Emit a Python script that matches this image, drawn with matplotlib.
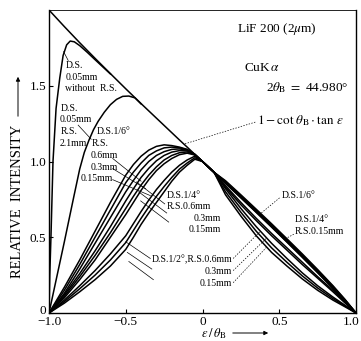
import matplotlib
matplotlib.use("Agg")
import matplotlib.pyplot as plt
from matplotlib.patches import FancyArrowPatch
from matplotlib.transforms import ScaledTranslation

plt.rcParams["font.family"] = ["Liberation Serif", "DejaVu Serif"]
plt.rcParams["mathtext.fontset"] = "stix"

# common abscissa (epsilon / theta_B) for the slit-profile curves
X_GRID = [-1.0, -0.9, -0.8, -0.7, -0.6, -0.5, -0.45, -0.4, -0.35, -0.3, -0.25,
          -0.2, -0.15, -0.1, -0.05, 0.0, 0.075, 0.15, 0.25, 0.35, 0.45, 0.55,
          0.65, 0.75, 0.85, 0.93, 1.0]

# 1 - cot(theta_B) * tan(eps), theta_B = 22.49 deg
LIMIT_Y = [2.0, 1.8905, 1.784, 1.681, 1.580, 1.480, 1.431, 1.382, 1.334, 1.286,
           1.238, 1.190, 1.142, 1.095, 1.047, 1.0, 0.929, 0.858, 0.762, 0.666,
           0.569, 0.470, 0.370, 0.268, 0.163, 0.077, 0.0]

DS6_RS06 = [0, 0.17, 0.35, 0.54, 0.73, 0.91, 0.98, 1.035, 1.075, 1.10, 1.11,
            1.105, 1.095, 1.08, 1.047, 1.0, 0.929, 0.873, 0.78, 0.685, 0.589,
            0.49, 0.39, 0.287, 0.18, 0.088, 0]
DS6_RS03 = [0, 0.15, 0.32, 0.50, 0.68, 0.86, 0.93, 0.99, 1.04, 1.07, 1.09,
            1.095, 1.09, 1.078, 1.047, 1.0, 0.929, 0.868, 0.774, 0.678, 0.582,
            0.483, 0.383, 0.28, 0.175, 0.085, 0]
DS6_RS015 = [0, 0.13, 0.29, 0.46, 0.63, 0.80, 0.875, 0.945, 1.0, 1.04, 1.065,
             1.08, 1.083, 1.075, 1.047, 1.0, 0.929, 0.863, 0.768, 0.672, 0.575,
             0.477, 0.377, 0.275, 0.17, 0.082, 0]
DS4_RS06 = [0, 0.12, 0.26, 0.41, 0.57, 0.74, 0.82, 0.895, 0.955, 1.005, 1.04,
            1.062, 1.072, 1.07, 1.045, 1.0, 0.929, 0.84, 0.73, 0.625, 0.525,
            0.43, 0.335, 0.24, 0.15, 0.07, 0]
DS4_RS03 = [0, 0.11, 0.24, 0.38, 0.53, 0.69, 0.77, 0.845, 0.91, 0.965, 1.01,
            1.04, 1.058, 1.063, 1.044, 1.0, 0.929, 0.83, 0.715, 0.61, 0.51,
            0.415, 0.32, 0.23, 0.14, 0.065, 0]
DS4_RS015 = [0, 0.10, 0.22, 0.35, 0.50, 0.65, 0.73, 0.81, 0.88, 0.94, 0.985,
             1.02, 1.045, 1.055, 1.043, 1.0, 0.929, 0.855, 0.76, 0.664, 0.567,
             0.468, 0.368, 0.266, 0.162, 0.076, 0]
DS2_RS06 = [0, 0.085, 0.18, 0.28, 0.39, 0.51, 0.59, 0.67, 0.745, 0.815, 0.875,
            0.93, 0.975, 1.01, 1.035, 1.0, 0.929, 0.82, 0.69, 0.57, 0.46,
            0.36, 0.265, 0.18, 0.105, 0.05, 0]
DS2_RS03 = [0, 0.075, 0.16, 0.25, 0.35, 0.465, 0.545, 0.625, 0.70, 0.77, 0.835,
            0.895, 0.95, 0.99, 1.025, 1.0, 0.929, 0.80, 0.665, 0.54, 0.43,
            0.335, 0.245, 0.165, 0.095, 0.045, 0]
DS2_RS015 = [0, 0.065, 0.14, 0.22, 0.31, 0.42, 0.50, 0.585, 0.66, 0.73, 0.80,
             0.87, 0.93, 0.975, 1.015, 1.0, 0.929, 0.78, 0.64, 0.51, 0.40,
             0.31, 0.225, 0.15, 0.085, 0.04, 0]

# narrow divergence slit curves (end where they join the limit curve)
DS005_NORS_X = [-1.0, -0.995, -0.987, -0.974, -0.954, -0.93, -0.908, -0.885,
                -0.862, -0.835, -0.80, -0.75, -0.70, -0.65, -0.60]
DS005_NORS_Y = [0, 0.25, 0.51, 1.0, 1.35, 1.55, 1.70, 1.77, 1.795, 1.79,
                1.765, 1.72, 1.672, 1.625, 1.578]
DS005_RS21_X = [-1.0, -0.9, -0.84, -0.8, -0.77, -0.74, -0.71, -0.68, -0.64,
                -0.6, -0.56, -0.52, -0.48, -0.44, -0.40]
DS005_RS21_Y = [0, 0.47, 0.76, 0.95, 1.06, 1.14, 1.21, 1.265, 1.325, 1.375,
                1.41, 1.43, 1.432, 1.42, 1.38]

X_TICKS = [-1.0, -0.5, 0.0, 0.5, 1.0]
X_TICK_LABELS = ["\u22121.0", "\u22120.5", "0", "0.5", "1.0"]
Y_TICKS = [0.0, 0.5, 1.0, 1.5]
Y_TICK_LABELS = ["0", "0.5", "1.0", "1.5"]


def shift(artist, fig, dx_px, dy_px):
    artist.set_transform(artist.get_transform() + ScaledTranslation(
        dx_px / fig.dpi, dy_px / fig.dpi, fig.dpi_scale_trans))


def main() -> None:
    fig = plt.figure(figsize=(3.61, 3.41), dpi=100)
    ax = fig.add_axes([49 / 361, 1 - 313 / 341, 307 / 361, 303 / 341])
    lw = 1.1

    ax.plot(X_GRID, LIMIT_Y, color="black", lw=lw)
    for ys in (DS6_RS06, DS6_RS03, DS6_RS015, DS4_RS06, DS4_RS03, DS4_RS015,
               DS2_RS06, DS2_RS03, DS2_RS015):
        ax.plot(X_GRID, ys, color="black", lw=lw)
    ax.plot(DS005_NORS_X, DS005_NORS_Y, color="black", lw=lw)
    ax.plot(DS005_RS21_X, DS005_RS21_Y, color="black", lw=lw)

    ax.set_xlim(-1.0, 1.0)
    ax.set_ylim(0.0, 2.0)
    ax.set_xticks(X_TICKS, X_TICK_LABELS)
    ax.set_yticks(Y_TICKS, Y_TICK_LABELS)
    ax.tick_params(direction="in", length=3, width=0.8, labelsize=9.5)
    ax.tick_params(axis="x", pad=2)
    ax.tick_params(axis="y", pad=2)
    # keep the corner labels apart and inside the canvas
    shift(ax.get_yticklabels()[0], fig, 0, 4)
    shift(ax.get_xticklabels()[-1], fig, -5, 0)
    for side in ax.spines:
        ax.spines[side].set_linewidth(1.0)
    ax.spines["top"].set_linewidth(0.6)

    big = 9.5
    small = 7
    ax.text(0.226, 1.873, "LiF 200 (2$\\mu$m)", fontsize=big, va="center")
    ax.text(0.272, 1.62, "CuK$\\,\\alpha$", fontsize=big, va="center")
    ax.text(0.416, 1.487, "2$\\theta_{\\rm B}$ $=$ 44.980\u00b0", fontsize=big,
            va="center")
    ax.text(0.357, 1.273, "$1-\\cot\\,\\theta_{\\rm B}\\cdot\\tan\\,\\varepsilon$",
            fontsize=big, va="center")
    ax.plot([0.344, -0.12], [1.26, 1.115], color="black", lw=0.5, ls=(0, (2, 2)))

    def label(x, y, s, ha="left"):
        ax.text(x, y, s, fontsize=small, va="center", ha=ha)

    def leader(x0, y0, x1, y1, dashed=False):
        ax.plot([x0, x1], [y0, y1], color="black", lw=0.5,
                ls=(0, (2, 2)) if dashed else "-")

    label(-0.889, 1.633, "D.S.")
    label(-0.889, 1.553, "0.05mm")
    label(-0.895, 1.48, "without  R.S.")
    leader(-0.875, 1.667, -0.905, 1.725)

    label(-0.921, 1.353, "D.S.")
    label(-0.928, 1.28, "0.05mm")
    label(-0.921, 1.2, "R.S.")
    label(-0.928, 1.12, "2.1mm")
    leader(-0.81, 1.24, -0.725, 1.147)

    label(-0.692, 1.2, "D.S.1/6\u00b0")
    label(-0.725, 1.12, "R.S.")
    label(-0.731, 1.04, "0.6mm")
    label(-0.731, 0.96, "0.3mm")
    label(-0.797, 0.887, "0.15mm")
    leader(-0.585, 1.02, -0.40, 0.87)
    leader(-0.585, 0.953, -0.37, 0.82)
    leader(-0.585, 0.88, -0.34, 0.775)

    label(-0.233, 0.773, "D.S.1/4\u00b0")
    label(-0.233, 0.70, "R.S.0.6mm")
    label(0.121, 0.627, "0.3mm", ha="right")
    label(0.121, 0.553, "0.15mm", ha="right")
    leader(-0.246, 0.72, -0.43, 0.865)
    leader(-0.233, 0.66, -0.416, 0.80)
    leader(-0.22, 0.60, -0.403, 0.74)

    label(0.193, 0.353, "D.S.1/2\u00b0,R.S.0.6mm", ha="right")
    label(0.193, 0.273, "0.3mm", ha="right")
    label(0.193, 0.193, "0.15mm", ha="right")
    leader(-0.34, 0.36, -0.50, 0.47)
    leader(-0.33, 0.29, -0.49, 0.40)
    leader(-0.32, 0.22, -0.48, 0.34)
    leader(0.20, 0.36, 0.377, 0.54, dashed=True)
    leader(0.20, 0.28, 0.416, 0.493, dashed=True)
    leader(0.20, 0.20, 0.416, 0.433, dashed=True)

    label(0.515, 0.773, "D.S.1/6\u00b0")
    leader(0.502, 0.76, 0.377, 0.655, dashed=True)
    label(0.60, 0.62, "D.S.1/4\u00b0")
    label(0.60, 0.54, "R.S.0.15mm")
    leader(0.595, 0.52, 0.54, 0.49, dashed=True)

    # axis titles with arrows
    fig.text(18 / 361, 1 - 201 / 341, "RELATIVE  INTENSITY", rotation=90,
             fontsize=10.5, ha="center", va="center")
    fig.add_artist(FancyArrowPatch(
        (18 / 361, 1 - 119 / 341), (18 / 361, 1 - 74 / 341),
        transform=fig.transFigure, arrowstyle="-|>", mutation_scale=6,
        lw=0.7, color="black"))
    fig.text(214 / 361, 1 - 333.5 / 341, "$\\varepsilon\\,/\\,\\theta_{\\rm B}$",
             fontsize=9, ha="center", va="center")
    fig.add_artist(FancyArrowPatch(
        (230 / 361, 1 - 333 / 341), (271 / 361, 1 - 333 / 341),
        transform=fig.transFigure, arrowstyle="-|>", mutation_scale=6,
        lw=0.7, color="black"))

    fig.savefig("out.png", dpi=100)
    plt.close(fig)


if __name__ == "__main__":
    main()
